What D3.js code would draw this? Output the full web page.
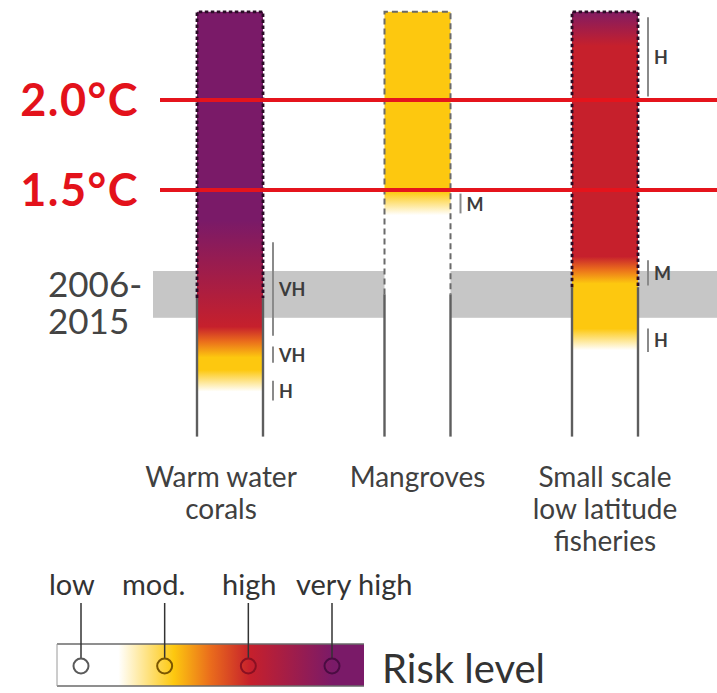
<!DOCTYPE html>
<html><head><meta charset="utf-8">
<script src="https://cdn.jsdelivr.net/npm/d3@7/dist/d3.min.js"></script>
<style>html,body{margin:0;padding:0;background:#fff;}svg{display:block;}</style>
</head><body>
<script>
// ---------- DATA ----------
const categories = ["Warm water corals", "Mangroves", "Small scale low latitude fisheries"];
const categoryLines = [["Warm water", "corals"], ["Mangroves"], ["Small scale", "low latitude", "fisheries"]];
// risk transition stops per category: [warming °C, risk level 0=low,1=mod,2=high,3=very high]
const coralStops = [[2.49, 3], [1.33, 3], [1.1, 2.6], [0.92, 2.3], [0.74, 2], [0.66, 1.5], [0.57, 1], [0.5, 1], [0.38, 0]];
const mangroveStops = [[2.49, 1], [1.49, 1], [1.36, 0]];
const fisheryStops = [[2.49, 2.9], [2.3, 2], [1.13, 2], [1.06, 1.5], [0.98, 1], [0.73, 1], [0.61, 0]];
const riskStops = [coralStops, mangroveStops, fisheryStops];
const barTopT = 2.49, barBottomT = 0.13;
const dashEndT = [0.90, 0.92, 0.96];       // below this the outline is solid (observed)
// confidence brackets: [from °C, to °C, label]
const coralConf = [[1.21, 0.69, "VH"], [0.63, 0.54, "VH"], [0.44, 0.33, "H"]];
const mangroveConf = [[1.48, 1.37, "M"]];
const fisheryConf = [[2.46, 2.02, "H"], [1.11, 0.97, "M"], [0.73, 0.6, "H"]];
const confidence = [coralConf, mangroveConf, fisheryConf];
const warmingLevels = [2.0, 1.5];
const warmingLabels = ["2.0°C", "1.5°C"];
const periodBand = [0.79, 1.05];
const periodLabel = ["2006-", "2015"];
const riskLevels = [0, 1, 2, 3];
const riskLabels = ["low", "mod.", "high", "very high"];
const legendTitle = "Risk level";

// ---------- SETUP ----------
const W = 717, H = 693;
const svg = d3.select("body").append("svg").attr("width", W).attr("height", H)
  .style("font-family", "Lato, 'Open Sans', sans-serif");
const defs = svg.append("defs");

const y = d3.scaleLinear().domain([1.5, 2.0]).range([190, 100]);
const x = d3.scalePoint().domain(categories).range([230, 605]);
const barW = 66;
const riskColor = d3.scaleLinear().domain([0, 1, 1.5, 2, 3])
  .range(["#ffffff", "#fdc80f", "#ea6c1c", "#c6202c", "#7a1a68"]);

// observed period band
svg.append("rect").attr("x", 153).attr("width", W - 153)
  .attr("y", y(periodBand[1])).attr("height", y(periodBand[0]) - y(periodBand[1]))
  .attr("fill", "#c6c6c6");

// bars
categories.forEach((c, i) => {
  const gid = "g" + i;
  const g = defs.append("linearGradient").attr("id", gid)
    .attr("gradientUnits", "userSpaceOnUse").attr("x1", 0).attr("x2", 0)
    .attr("y1", y(barTopT)).attr("y2", y(barBottomT));
  const span = y(barBottomT) - y(barTopT);
  riskStops[i].forEach(s => g.append("stop")
    .attr("offset", (y(s[0]) - y(barTopT)) / span)
    .attr("stop-color", riskColor(s[1])));
  const x0 = x(c) - barW / 2, x1 = x(c) + barW / 2;
  svg.append("rect").attr("x", x0).attr("width", barW)
    .attr("y", y(barTopT)).attr("height", span).attr("fill", `url(#${gid})`);
  const dark = riskStops[i][0][1] >= 2;
  const yd = y(dashEndT[i]);
  svg.append("path")
    .attr("d", `M${x0},${yd}V${y(barTopT)}H${x1}V${yd}`)
    .attr("fill", "none")
    .attr("stroke", dark ? "#2b0c26" : "#6a6a6a")
    .attr("stroke-width", dark ? 2.8 : 2)
    .attr("stroke-dasharray", dark ? "3.5,2.5" : "6,4");
  [x0, x1].forEach(xx => svg.append("line")
    .attr("x1", xx).attr("x2", xx).attr("y1", yd).attr("y2", y(barBottomT))
    .attr("stroke", "#5e5e5e").attr("stroke-width", 2.4));

  // confidence brackets
  confidence[i].forEach(cf => {
    const lx = x1 + 10;
    svg.append("line").attr("x1", lx).attr("x2", lx)
      .attr("y1", y(cf[0])).attr("y2", y(cf[1]))
      .attr("stroke", "#8a8a8a").attr("stroke-width", 2);
    svg.append("text").attr("x", lx + 6).attr("y", (y(cf[0]) + y(cf[1])) / 2)
      .attr("dominant-baseline", "central")
      .attr("font-size", 18).attr("font-weight", 700).attr("fill", "#3c3c3c")
      .text(cf[2]);
  });

  // category labels
  categoryLines[i].forEach((t, k) => svg.append("text")
    .attr("x", x(c) - (i === 0 ? 9 : 0)).attr("y", 487 + k * 32)
    .attr("text-anchor", "middle").attr("font-size", 28).attr("fill", "#404040")
    .text(t));
});

// warming level lines
warmingLevels.forEach((t, k) => {
  svg.append("line").attr("x1", 160).attr("x2", W)
    .attr("y1", y(t)).attr("y2", y(t))
    .attr("stroke", "#e5141c").attr("stroke-width", 4);
  svg.append("text").attr("x", 139).attr("y", y(t) + 16)
    .attr("text-anchor", "end").attr("font-size", 45).attr("font-weight", 700)
    .attr("letter-spacing", 1.5)
    .attr("fill", "#e3121b").text(warmingLabels[k]);
});

// period label
periodLabel.forEach((t, k) => svg.append("text")
  .attr("x", 48).attr("y", 297 + k * 37).attr("font-size", 35).attr("fill", "#444")
  .text(t));

// ---------- LEGEND ----------
const lx = d3.scaleLinear().domain([0, 3]).range([81, 332]);
const lg = defs.append("linearGradient").attr("id", "leg");
[[0, 0], [0.2, 0], [0.38, 1], [0.5, 1.5], [0.63, 2], [0.9, 3], [1, 3]].forEach(s =>
  lg.append("stop").attr("offset", s[0]).attr("stop-color", riskColor(s[1])));
const legTop = 644, legBot = 686;
svg.append("rect").attr("x", 57).attr("width", 307).attr("y", legTop)
  .attr("height", legBot - legTop).attr("fill", "url(#leg)");
[legTop, legBot].forEach(yy => svg.append("line").attr("x1", 57).attr("x2", 364)
  .attr("y1", yy).attr("y2", yy).attr("stroke", "#6a6a6a").attr("stroke-width", 1.5));
svg.append("line").attr("x1", 57).attr("x2", 57).attr("y1", legTop).attr("y2", legBot)
  .attr("stroke", "#9a9a9a").attr("stroke-width", 1);
const circStroke = ["#5a5a5a", "#7a5600", "#8a1022", "#4a0c42"];
const textX = [49, 122, 222, 296];
riskLevels.forEach((r, k) => {
  const cy = 666;
  svg.append("line").attr("x1", lx(r)).attr("x2", lx(r)).attr("y1", 603).attr("y2", cy - 8)
    .attr("stroke", "#333").attr("stroke-width", 1.5);
  svg.append("circle").attr("cx", lx(r)).attr("cy", cy).attr("r", 7.5)
    .attr("fill", "none").attr("stroke", circStroke[k]).attr("stroke-width", 2);
  svg.append("text").attr("x", textX[k]).attr("y", 595).attr("font-size", 29)
    .attr("fill", "#333").text(riskLabels[k]);
});
svg.append("text").attr("x", 382).attr("y", 683).attr("font-size", 40)
  .attr("fill", "#333").text(legendTitle);
</script>
</body></html>
